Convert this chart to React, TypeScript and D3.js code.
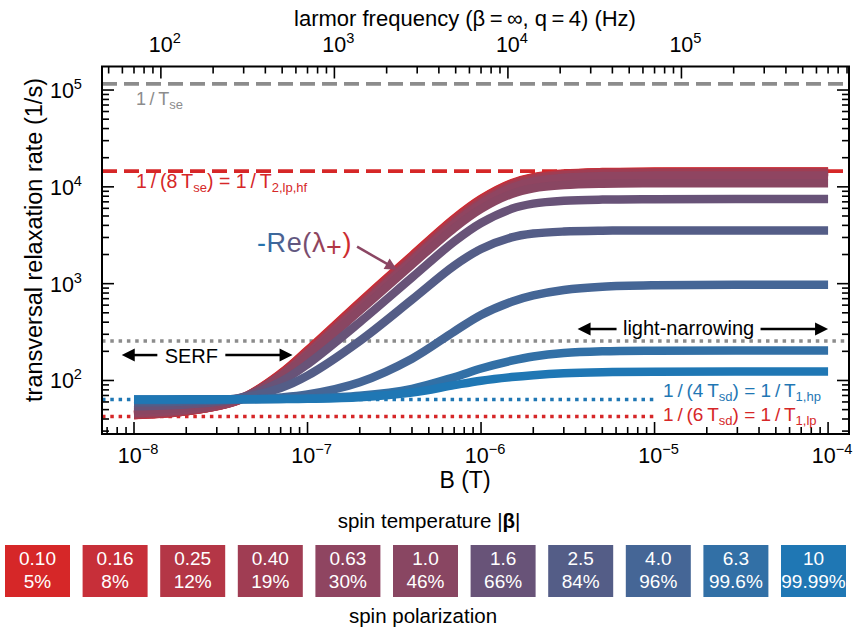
import React from "react";
import * as d3 from "d3";

// spin temperature |β| and spin polarization of each curve
const spinTemps = ["0.10", "0.16", "0.25", "0.40", "0.63", "1.0", "1.6", "2.5", "4.0", "6.3", "10"];
const spinPols = ["5%", "8%", "12%", "19%", "30%", "46%", "66%", "84%", "96%", "99.6%", "99.99%"];
const curveColors = [
	"#d62728", "#c72f39", "#b43646", "#a03d53", "#8f4561", "#894662",
	"#685378", "#545d87", "#456696", "#3270a6", "#1f77b4",
];

// magnetic field samples (T)
const fields = [1e-8, 2e-8, 4e-8, 7e-8, 1e-7, 2e-7, 4e-7, 7e-7, 1e-6, 1.5e-6, 2e-6, 3e-6, 5e-6, 1e-5, 1e-4];

// -Re(λ+) in 1/s, one row per spin temperature, read at the fields above
const rates = [
	[44, 48, 63, 118, 205, 640, 1950, 4700, 7500, 10900, 12600, 13700, 14206, 14370, 14400],
	[44.1, 48.0, 62.7, 116.6, 201.4, 628, 1913, 4613, 7375, 10759, 12468, 13579, 14093, 14259, 14293],
	[44.1, 48.0, 62.4, 115.2, 198.2, 616, 1874, 4526, 7251, 10620, 12340, 13466, 13989, 14159, 14193],
	[44.9, 48.6, 62.4, 113, 192.5, 593, 1800, 4349, 6991, 10304, 12024, 13163, 13695, 13868, 13903],
	[46.3, 49.8, 63, 111.4, 187.6, 570, 1724, 4156, 6663, 9774, 11369, 12417, 12905, 13063, 13095],
	[49.3, 52.5, 64.5, 108.5, 177.7, 526, 1572, 3750, 5919, 8448, 9659, 10421, 10765, 10875, 10898],
	[54.2, 56.5, 65.2, 97.1, 147.3, 400, 1157, 2717, 4234, 5927, 6703, 7178, 7389, 7456, 7470],
	[59.2, 60.5, 65.5, 83.6, 112.2, 256, 684, 1532, 2280, 3002, 3290, 3453, 3523, 3545, 3549],
	[62.6, 62.8, 63.7, 66.8, 71.7, 96, 168, 320, 475, 650, 755, 860, 930, 962, 975],
	[63.7, 63.8, 63.9, 64.5, 65.3, 69.5, 82, 108, 133, 160, 177, 192, 200, 203, 204],
	[63.7, 63.7, 63.8, 64.2, 64.7, 67.2, 75, 89.5, 99.5, 108.5, 113.5, 118.5, 121.5, 123, 124],
];

// reference rates (1/s)
const rateTse = 1.16e5; // 1/T_se
const rateT2lphf = 1.45e4; // 1/(8 T_se)
const rateTsd = 255; // 1/T_sd
const rateT1hp = 63.75; // 1/(4 T_sd)
const rateT1lp = 42.5; // 1/(6 T_sd)
const sdLineEnd = 1e-5;

const larmorPerTesla = 7.0e9; // Hz/T, β = ∞, q = 4
const fieldDomain = [6.54e-9, 1.32e-4];
const rateDomain = [28, 1.75e5];

const FONT = "'Liberation Sans', Arial, Helvetica, sans-serif";

function logTicks(domain: number[]) {
	const out: { v: number; major: boolean; e: number }[] = [];
	const e0 = Math.floor(Math.log10(domain[0]));
	const e1 = Math.ceil(Math.log10(domain[1]));
	for (let e = e0; e <= e1; e++) {
		for (let m = 1; m <= 9; m++) {
			const v = m * Math.pow(10, e);
			if (v >= domain[0] && v <= domain[1]) out.push({ v, major: m === 1, e });
		}
	}
	return out;
}

function PowLabel({ x, y, e, anchor = "middle", size = 21 }: any) {
	return (
		<text x={x} y={y} textAnchor={anchor} fontSize={size}>
			10
			<tspan dy={-9} fontSize={size * 0.68}>
				{e < 0 ? `\u2212${-e}` : e}
			</tspan>
		</text>
	);
}

function Arrow({ x1, y1, x2, y2, color = "#000", width = 2.5, head = 13, half = 6.5 }: any) {
	const dx = x2 - x1;
	const dy = y2 - y1;
	const len = Math.hypot(dx, dy);
	const ux = dx / len;
	const uy = dy / len;
	const bx = x2 - ux * head;
	const by = y2 - uy * head;
	const pts = [
		[x2, y2],
		[bx - uy * half, by + ux * half],
		[bx + uy * half, by - ux * half],
	];
	return (
		<g>
			<line x1={x1} y1={y1} x2={bx + ux * 1} y2={by + uy * 1} stroke={color} strokeWidth={width} />
			<polygon points={pts.map((p) => p.join(",")).join(" ")} fill={color} />
		</g>
	);
}

function App() {
	const width = 855;
	const height = 630;
	const plot = { left: 102, right: 849, top: 66.5, bottom: 434 };

	const x = d3.scaleLog().domain(fieldDomain).range([plot.left, plot.right]);
	const y = d3.scaleLog().domain(rateDomain).range([plot.bottom, plot.top]);
	const xTop = d3
		.scaleLog()
		.domain(fieldDomain.map((b) => b * larmorPerTesla))
		.range([plot.left, plot.right]);

	const line = d3
		.line<number>()
		.x((_, i) => x(fields[i]))
		.y((d) => y(d))
		.curve(d3.curveCatmullRom.alpha(0.5));

	const xTicks = logTicks(fieldDomain);
	const topTicks = logTicks(xTop.domain());
	const yTicks = logTicks(rateDomain);

	const band = d3
		.scaleBand()
		.domain(spinTemps)
		.range([5, 846])
		.paddingInner(0.1624)
		.paddingOuter(0);

	const sub = 13;

	// annotation anchors
	const serfY = y(183);
	const serfMid = x(2.14e-8);
	const narrowY = y(340);
	const narrowMid = x(1.57e-5);

	return (
		<div style={{ position: "absolute", left: 0, top: 0 }}>
			<svg width={width} height={height} fontFamily={FONT} style={{ display: "block" }}>
				<defs>
					<linearGradient id="reGrad" x1="0" x2="1" y1="0" y2="0">
						<stop offset="0" stopColor="#1f77b4" />
						<stop offset="0.45" stopColor="#6a5278" />
						<stop offset="1" stopColor="#d62728" />
					</linearGradient>
				</defs>
				<rect x={0} y={0} width={width} height={height} fill="#fff" />

				{/* reference lines */}
				<line x1={plot.left} x2={plot.right} y1={y(rateTse)} y2={y(rateTse)} stroke="#8c8c8c" strokeWidth={3.8} strokeDasharray="15,7" />
				<line x1={plot.left} x2={plot.right} y1={y(rateT2lphf)} y2={y(rateT2lphf)} stroke="#d62728" strokeWidth={3.8} strokeDasharray="15,7" />
				<line x1={plot.left} x2={plot.right} y1={y(rateTsd)} y2={y(rateTsd)} stroke="#8c8c8c" strokeWidth={3.5} strokeDasharray="3.5,4.8" />
				<line x1={plot.left} x2={x(sdLineEnd)} y1={y(rateT1hp)} y2={y(rateT1hp)} stroke="#1f77b4" strokeWidth={3.5} strokeDasharray="3.5,4.8" />
				<line x1={plot.left} x2={x(sdLineEnd)} y1={y(rateT1lp)} y2={y(rateT1lp)} stroke="#d62728" strokeWidth={3.5} strokeDasharray="3.5,4.8" />

				{/* curves */}
				{rates.map((r, i) => (
					<path key={i} d={line(r) || ""} fill="none" stroke={curveColors[i]} strokeWidth={8.5} />
				))}

				{/* frame */}
				<rect x={plot.left} y={plot.top} width={plot.right - plot.left} height={plot.bottom - plot.top} fill="none" stroke="#000" strokeWidth={2} />

				{/* ticks */}
				<g stroke="#000" strokeWidth={1.6}>
					{xTicks.map((t, i) => (
						<line key={"b" + i} x1={x(t.v)} x2={x(t.v)} y1={plot.bottom} y2={plot.bottom - (t.major ? 12 : 7)} />
					))}
					{topTicks.map((t, i) => (
						<line key={"t" + i} x1={xTop(t.v)} x2={xTop(t.v)} y1={plot.top} y2={plot.top + (t.major ? 12 : 7)} />
					))}
					{yTicks.map((t, i) => (
						<g key={"y" + i}>
							<line x1={plot.left} x2={plot.left + (t.major ? 12 : 7)} y1={y(t.v)} y2={y(t.v)} />
							<line x1={plot.right} x2={plot.right - (t.major ? 12 : 7)} y1={y(t.v)} y2={y(t.v)} />
						</g>
					))}
				</g>

				{/* tick labels */}
				{xTicks.filter((t) => t.major).map((t, i) => (
					<PowLabel key={"bl" + i} x={x(t.v) + 4} y={463} e={t.e} size={21.5} />
				))}
				{topTicks.filter((t) => t.major).map((t, i) => (
					<PowLabel key={"tl" + i} x={xTop(t.v) + 4} y={52} e={t.e} size={21.5} />
				))}
				{yTicks.filter((t) => t.major).map((t, i) => (
					<PowLabel key={"yl" + i} x={82} y={y(t.v) + 8} e={t.e} anchor="end" size={21.5} />
				))}

				{/* axis titles */}
				<text x={465} y={488} textAnchor="middle" fontSize={23}>B (T)</text>
				<text x={465} y={26} textAnchor="middle" fontSize={22}>
					larmor frequency (β{"\u2009=\u2009"}∞, q{"\u2009=\u2009"}4) (Hz)
				</text>
				<text transform={`translate(42,240) rotate(-90)`} textAnchor="middle" fontSize={23.5}>
					transversal relaxation rate (1/s)
				</text>

				{/* reference labels */}
				<text x={136} y={105} fontSize={18} fill="#8c8c8c">
					1{"\u2009/\u2009"}T<tspan dy={4} fontSize={sub}>se</tspan>
				</text>
				<text x={136} y={188} fontSize={19.5} fill="#d62728">
					1{"\u2009/\u2009"}(8{"\u2009"}T<tspan dy={4} fontSize={sub}>se</tspan>
					<tspan dy={-4}>){" = "}1{"\u2009/\u2009"}T</tspan>
					<tspan dy={4} fontSize={sub}>2,lp,hf</tspan>
				</text>
				<text x={663} y={397} fontSize={19} fill="#1f77b4">
					1{"\u2009/\u2009"}(4{"\u2009"}T<tspan dy={4} fontSize={sub}>sd</tspan>
					<tspan dy={-4}>){" = "}1{"\u2009/\u2009"}T</tspan>
					<tspan dy={4} fontSize={sub}>1,hp</tspan>
				</text>
				<text x={663} y={421} fontSize={19} fill="#d62728">
					1{"\u2009/\u2009"}(6{"\u2009"}T<tspan dy={4} fontSize={sub}>sd</tspan>
					<tspan dy={-4}>){" = "}1{"\u2009/\u2009"}T</tspan>
					<tspan dy={4} fontSize={sub}>1,lp</tspan>
				</text>

				{/* regime arrows */}
				<text x={serfMid} y={serfY + 8} textAnchor="middle" fontSize={20}>SERF</text>
				<Arrow x1={serfMid - 34} y1={serfY} x2={x(8.5e-9)} y2={serfY} />
				<Arrow x1={serfMid + 34} y1={serfY} x2={x(8.2e-8)} y2={serfY} />
				<text x={narrowMid} y={narrowY + 6} textAnchor="middle" fontSize={20}>light-narrowing</text>
				<Arrow x1={narrowMid - 72} y1={narrowY} x2={x(3.6e-6)} y2={narrowY} />
				<Arrow x1={narrowMid + 72} y1={narrowY} x2={x(1e-4)} y2={narrowY} />

				{/* -Re(λ+) label */}
				<text x={257} y={252} fontSize={27} letterSpacing={0.6} fill="url(#reGrad)">
					-Re(λ<tspan dy={4}>+</tspan>
					<tspan dy={-4}>)</tspan>
				</text>
				<Arrow x1={x(1.93e-7)} y1={y(2410)} x2={x(3.28e-7)} y2={y(1395)} color="#8b4663" width={2.5} head={12} half={6} />

				{/* spin temperature legend */}
				<text x={429} y={528} textAnchor="middle" fontSize={20.5}>
					spin temperature |<tspan fontWeight="bold">β</tspan>|
				</text>
				{spinTemps.map((s, i) => (
					<g key={s} transform={`translate(${band(s)},545)`}>
						<rect width={band.bandwidth()} height={52} fill={curveColors[i]} />
						<text x={band.bandwidth() / 2} y={20} textAnchor="middle" fontSize={19} fill="#fff">
							{s}
						</text>
						<text x={band.bandwidth() / 2} y={43} textAnchor="middle" fontSize={19} fill="#fff">
							{spinPols[i]}
						</text>
					</g>
				))}
				<text x={423} y={623} textAnchor="middle" fontSize={20.5}>
					spin polarization
				</text>
			</svg>
		</div>
	);
}

export default App;
